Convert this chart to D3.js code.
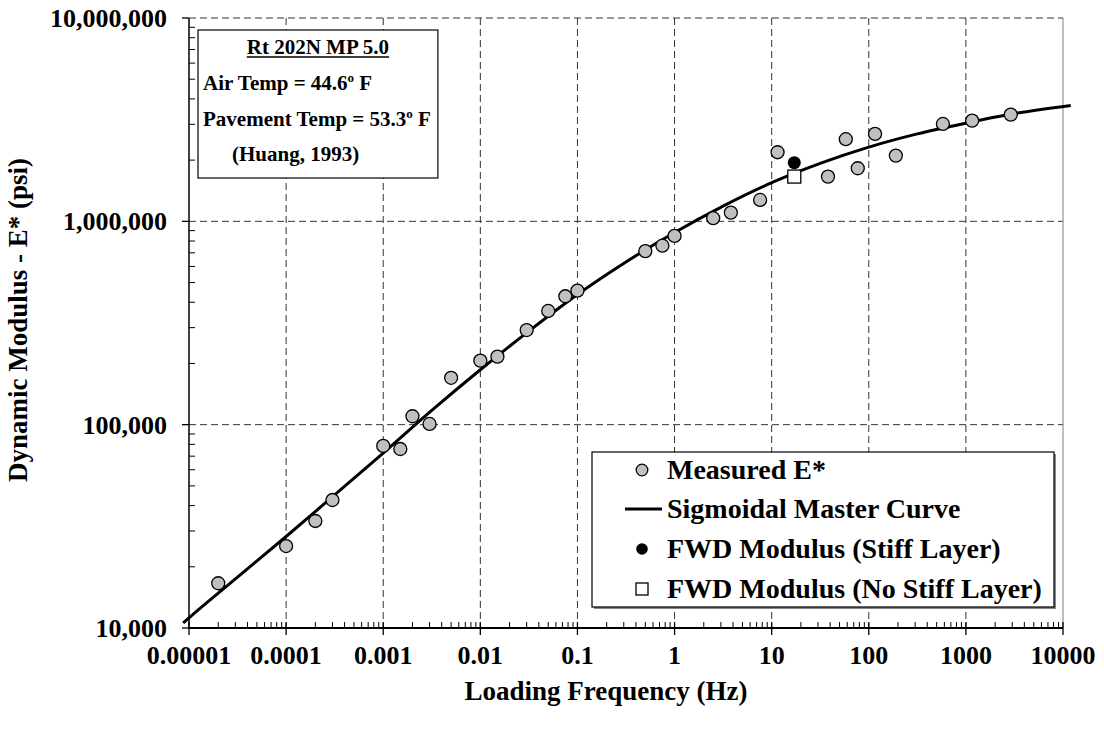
<!DOCTYPE html>
<html><head><meta charset="utf-8">
<script src="https://cdn.jsdelivr.net/npm/d3@7"></script>
<style>
body{margin:0;background:#fff}
svg{display:block}
text{font-family:"Liberation Serif","Times New Roman",serif;font-weight:bold;fill:#000}
</style>
</head><body>
<svg id="c" width="1104" height="731"></svg>
<script>
// ---- data ----
const measuredFreq = [0.00002, 0.0001, 0.0002, 0.0003, 0.001, 0.0015, 0.002, 0.003, 0.005, 0.01, 0.015, 0.03, 0.05, 0.075, 0.1,
  0.5, 0.75, 1, 2.5, 3.8, 7.6, 11.5, 38, 58, 77, 116, 190, 580, 1160, 2900];
const measuredE = [16600, 25300, 33600, 42600, 78600, 75900, 110000, 100800, 170000, 206500, 216000, 292000, 362500, 428000, 456000,
  714000, 759000, 848000, 1036000, 1104000, 1274000, 2187000, 1660000, 2535000, 1824000, 2691000, 2105000, 3013000, 3128000, 3350000];
const fwdStiffFreq = [17.1];
const fwdStiffE = [1944000];
const fwdNoStiffFreq = [17.1];
const fwdNoStiffE = [1660000];
// sigmoidal master curve
const curveFreq = [0.0000087, 0.00001, 0.0000316, 0.0001, 0.000316, 0.001, 0.00316, 0.01, 0.0316, 0.1, 0.316, 1, 3.16, 10, 31.6, 100, 316, 1000, 3160, 12000];
const curveE = [10590, 11220, 17780, 28180, 45190, 72440, 117500, 186200, 288400, 436500, 631000, 881000, 1188500, 1548800, 1927500, 2317400, 2691500, 3040900, 3388400, 3715400];

const xTickValues = [1e-5, 1e-4, 1e-3, 1e-2, 1e-1, 1, 10, 100, 1000, 10000];
const xTickLabels = ["0.00001", "0.0001", "0.001", "0.01", "0.1", "1", "10", "100", "1000", "10000"];
const yTickValues = [1e4, 1e5, 1e6, 1e7];
const yTickLabels = ["10,000", "100,000", "1,000,000", "10,000,000"];
const xTitle = "Loading Frequency (Hz)";
const yTitle = "Dynamic Modulus - E* (psi)";
const infoTitle = "Rt 202N MP 5.0";
const legendLabels = ["Measured E*", "Sigmoidal Master Curve", "FWD Modulus (Stiff Layer)", "FWD Modulus (No Stiff Layer)"];

// ---- chart ----
const svg = d3.select("#c");
const L = 189, R = 1063, T = 18, B = 628;
const x = d3.scaleLog().domain([1e-5, 1e4]).range([L, R]);
const y = d3.scaleLog().domain([1e4, 1e7]).range([B, T]);
const FS = 26;     // tick labels
const FI = 21;     // info box
const FL = 28;     // legend
const FT = 27;     // axis titles

// gridlines
const g = svg.append("g");
g.selectAll(".vg").data(xTickValues.slice(1, -1)).join("line")
  .attr("x1", d => x(d)).attr("x2", d => x(d)).attr("y1", T).attr("y2", B)
  .attr("stroke", "#333").attr("stroke-width", 1).attr("stroke-dasharray", "7,4");
g.selectAll(".hg").data(yTickValues.slice(1)).join("line")
  .attr("x1", L).attr("x2", R).attr("y1", d => y(d)).attr("y2", d => y(d))
  .attr("stroke", "#333").attr("stroke-width", 1).attr("stroke-dasharray", "7,4");
// right edge
g.append("line").attr("x1", R).attr("x2", R).attr("y1", T).attr("y2", B).attr("stroke", "#808080").attr("stroke-width", 1);

// minor ticks
const minorX = [], minorY = [];
for (let e = -5; e < 4; e++) for (let k = 2; k <= 9; k++) minorX.push(k * Math.pow(10, e));
for (let e = 4; e < 7; e++) for (let k = 2; k <= 9; k++) minorY.push(k * Math.pow(10, e));
g.selectAll(".mx").data(minorX).join("line")
  .attr("x1", d => x(d)).attr("x2", d => x(d)).attr("y1", B).attr("y2", B - 6).attr("stroke", "#000").attr("stroke-width", 1);
g.selectAll(".my").data(minorY).join("line")
  .attr("x1", L).attr("x2", L + 6).attr("y1", d => y(d)).attr("y2", d => y(d)).attr("stroke", "#000").attr("stroke-width", 1);
// major ticks
g.selectAll(".Mx").data(xTickValues).join("line")
  .attr("x1", d => x(d)).attr("x2", d => x(d)).attr("y1", B - 6).attr("y2", B + 7).attr("stroke", "#000").attr("stroke-width", 1.3);
g.selectAll(".My").data(yTickValues).join("line")
  .attr("x1", L - 7).attr("x2", L).attr("y1", d => y(d)).attr("y2", d => y(d)).attr("stroke", "#000").attr("stroke-width", 1.3);
// axis lines
g.append("line").attr("x1", L).attr("x2", L).attr("y1", T).attr("y2", B).attr("stroke", "#000").attr("stroke-width", 1.5);
g.append("line").attr("x1", L).attr("x2", R).attr("y1", B).attr("y2", B).attr("stroke", "#000").attr("stroke-width", 2);

// tick labels
svg.selectAll(".xl").data(xTickValues).join("text")
  .attr("x", d => x(d)).attr("y", 664).attr("text-anchor", "middle").attr("font-size", FS)
  .text((d, i) => xTickLabels[i]);
svg.selectAll(".yl").data(yTickValues).join("text")
  .attr("x", 167).attr("y", d => y(d)).attr("dy", "0.35em").attr("text-anchor", "end").attr("font-size", FS)
  .text((d, i) => yTickLabels[i]);

// axis titles
svg.append("text").attr("x", 606).attr("y", 700).attr("text-anchor", "middle").attr("font-size", FT).text(xTitle);
svg.append("text").attr("transform", "translate(27,320) rotate(-90)").attr("text-anchor", "middle").attr("font-size", FT).text(yTitle);

// info box
const info = svg.append("g");
const infoRect = info.append("rect").attr("x", 198).attr("y", 30).attr("height", 148)
  .attr("fill", "#fff").attr("stroke", "#000").attr("stroke-width", 1.2);
const tTitle = info.append("text").attr("y", 54).attr("font-size", FI).text(infoTitle);
const t1 = info.append("text").attr("x", 203).attr("y", 90).attr("font-size", FI);
t1.append("tspan").text("Air Temp = 44.6");
t1.append("tspan").attr("font-size", 13).attr("dy", -8).text("o");
t1.append("tspan").attr("dy", 8).text(" F");
const t2 = info.append("text").attr("x", 203).attr("y", 126).attr("font-size", FI);
t2.append("tspan").text("Pavement Temp = 53.3");
t2.append("tspan").attr("font-size", 13).attr("dy", -8).text("o");
t2.append("tspan").attr("dy", 8).text(" F");
const t3 = info.append("text").attr("y", 161).attr("font-size", FI).text("(Huang, 1993)");
const wMax = Math.max(t1.node().getComputedTextLength(), t2.node().getComputedTextLength());
const boxW = wMax + 12;
infoRect.attr("width", boxW);
const cx = 198 + boxW / 2;
const tw = tTitle.node().getComputedTextLength();
tTitle.attr("x", cx - tw / 2);
info.append("line").attr("x1", cx - tw / 2).attr("x2", cx + tw / 2).attr("y1", 57).attr("y2", 57).attr("stroke", "#000").attr("stroke-width", 1.3);
t3.attr("x", 232);

// master curve
const line = d3.line().x(d => x(d[0])).y(d => y(d[1])).curve(d3.curveMonotoneX);
svg.append("path").datum(curveFreq.map((f, i) => [f, curveE[i]]))
  .attr("d", line).attr("fill", "none").attr("stroke", "#000").attr("stroke-width", 3);

// points
svg.selectAll(".pt").data(measuredFreq.map((f, i) => [f, measuredE[i]])).join("circle")
  .attr("cx", d => x(d[0])).attr("cy", d => y(d[1])).attr("r", 6.5)
  .attr("fill", "#c0c0c0").attr("stroke", "#000").attr("stroke-width", 1.3);
svg.selectAll(".fs").data(fwdStiffFreq.map((f, i) => [f, fwdStiffE[i]])).join("circle")
  .attr("cx", d => x(d[0])).attr("cy", d => y(d[1])).attr("r", 6.5).attr("fill", "#000");
svg.selectAll(".fn").data(fwdNoStiffFreq.map((f, i) => [f, fwdNoStiffE[i]])).join("rect")
  .attr("x", d => x(d[0]) - 6.5).attr("y", d => y(d[1]) - 6.5).attr("width", 13).attr("height", 13)
  .attr("fill", "#fff").attr("stroke", "#000").attr("stroke-width", 1.3);

// legend
const lg = svg.append("g");
lg.append("rect").attr("x", 594).attr("y", 454).attr("width", 462).attr("height", 155).attr("fill", "#888");
lg.append("rect").attr("x", 592).attr("y", 452).attr("width", 462).attr("height", 155)
  .attr("fill", "#fff").attr("stroke", "#000").attr("stroke-width", 1.2);
const rows = [470, 509, 549, 589];
const sx = 642, tx = 667;
lg.append("circle").attr("cx", sx).attr("cy", rows[0]).attr("r", 5.8).attr("fill", "#c0c0c0").attr("stroke", "#000").attr("stroke-width", 1.3);
lg.append("line").attr("x1", 625).attr("x2", 662).attr("y1", rows[1]).attr("y2", rows[1]).attr("stroke", "#000").attr("stroke-width", 3);
lg.append("circle").attr("cx", sx).attr("cy", rows[2]).attr("r", 5.8).attr("fill", "#000");
lg.append("rect").attr("x", sx - 6).attr("y", rows[3] - 6).attr("width", 12).attr("height", 12).attr("fill", "#fff").attr("stroke", "#000").attr("stroke-width", 1.3);
lg.selectAll(".lt").data(legendLabels).join("text")
  .attr("x", tx).attr("y", (d, i) => rows[i]).attr("dy", "0.33em").attr("font-size", FL).text(d => d);
</script>
</body></html>
